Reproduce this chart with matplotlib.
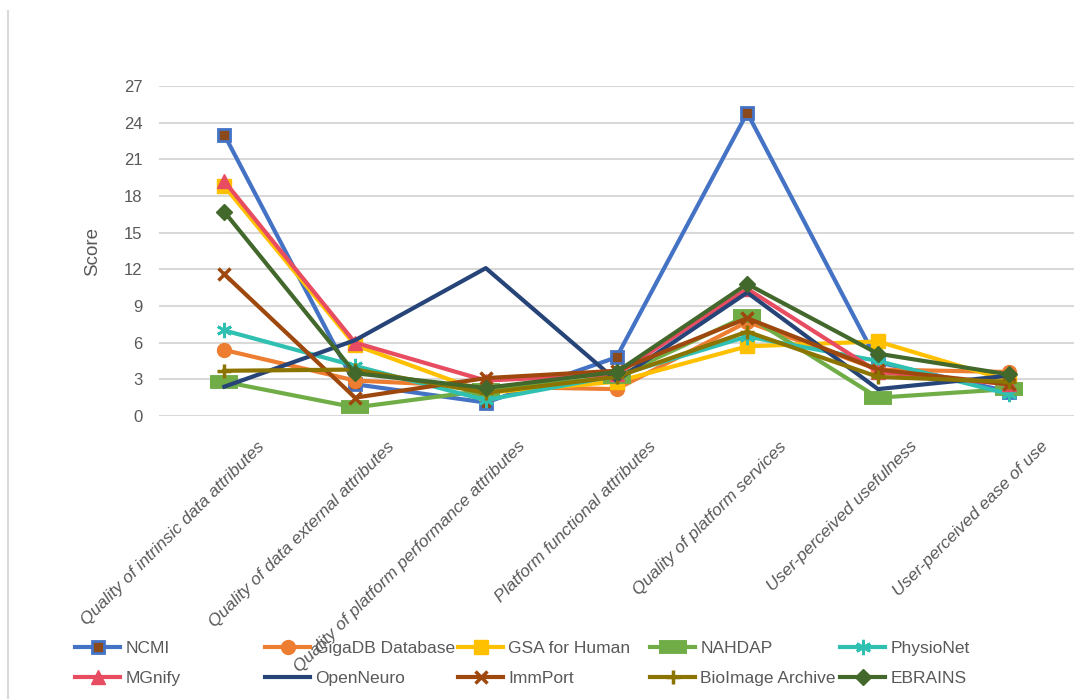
import numpy as np
import matplotlib.pyplot as plt
import matplotlib.transforms as mtransforms
from matplotlib.lines import Line2D

plt.rcParams['font.family'] = ['Liberation Sans Narrow', 'Liberation Sans', 'DejaVu Sans']

categories = ['Quality of intrinsic data attributes', 'Quality of data external attributes',
              'Quality of platform performance attributes', 'Platform functional attributes',
              'Quality of platform services', 'User-perceived usefulness', 'User-perceived ease of use']

NCMI = [23.0, 2.6, 1.1, 4.8, 24.8, 4.4, 2.0]
GigaDB = [5.4, 2.9, 2.4, 2.2, 7.7, 3.8, 3.6]
GSA = [18.8, 5.8, 1.9, 2.8, 5.7, 6.1, 2.9]
NAHDAP = [2.8, 0.7, 2.1, 3.2, 8.2, 1.5, 2.2]
PhysioNet = [7.0, 4.1, 1.3, 3.3, 6.5, 4.5, 1.8]
MGnify = [19.2, 6.0, 2.9, 3.4, 10.4, 3.6, 2.6]
OpenNeuro = [2.4, 6.2, 12.1, 2.9, 10.1, 2.2, 3.3]
ImmPort = [11.6, 1.5, 3.1, 3.7, 8.0, 3.8, 2.6]
BioImage = [3.7, 3.8, 1.9, 3.2, 6.9, 3.2, 2.8]
EBRAINS = [16.7, 3.5, 2.3, 3.6, 10.8, 5.1, 3.4]

names = ['NCMI', 'GigaDB Database', 'GSA for Human', 'NAHDAP', 'PhysioNet',
         'MGnify', 'OpenNeuro', 'ImmPort', 'BioImage Archive', 'EBRAINS']
series = [NCMI, GigaDB, GSA, NAHDAP, PhysioNet, MGnify, OpenNeuro, ImmPort, BioImage, EBRAINS]

# marker styles per series (Excel look)
styles = [
    dict(color='#4472C4', marker='s', ms=9, mfc='#8B4A1C', mec='#4472C4', mew=2),
    dict(color='#ED7D31', marker='o', ms=10),
    dict(color='#FFC000', marker='s', ms=10),
    dict(color='#70AD47', marker='_', ms=20, mew=10),
    dict(color='#2FC0B2', marker=(6, 2, 0), ms=11, mew=2),
    dict(color='#E84C61', marker='^', ms=10),
    dict(color='#264478', marker=None),
    dict(color='#9E480E', marker='x', ms=9, mew=2.5),
    dict(color='#8C7400', marker='+', ms=10, mew=2.5),
    dict(color='#43682B', marker='D', ms=8),
]

fig = plt.figure(figsize=(10.86, 6.99), dpi=100)
ax = fig.add_axes([159 / 1086, 1 - 416 / 699, 915 / 1086, 330 / 699])

x = np.arange(len(categories))
lines = []
for name, vals, st in zip(names, series, styles):
    ln, = ax.plot(x, vals, lw=3, label=name, **st)
    lines.append(ln)

ax.set_xlim(-0.5, len(categories) - 0.5)
ax.set_ylim(0, 27)
ax.set_yticks(np.arange(0, 28, 3))
ax.grid(axis='y', color='#D9D9D9', lw=1.5)
ax.set_axisbelow(True)
for s in ax.spines.values():
    s.set_visible(False)
ax.tick_params(length=0, labelsize=12, labelcolor='#595959', pad=12)

ax.set_xticks(x)
ax.set_xticklabels(categories, rotation=45, ha='right', rotation_mode='anchor',
                   fontsize=12.5, style='italic', color='#595959')
offset = mtransforms.ScaledTranslation(0.32, -0.06, fig.dpi_scale_trans)
for lab in ax.get_xticklabels():
    lab.set_transform(lab.get_transform() + offset)

ax.set_ylabel('Score', fontsize=13.5, color='#595959', labelpad=16)

# legend: five fixed-width columns, two rows
col_x = [75, 265, 458, 650, 840]
for i, cx in enumerate(col_x):
    fig.legend([lines[i], lines[i + 5]], [names[i], names[i + 5]],
               loc='upper left', bbox_to_anchor=(cx / 1086, 1 - 641 / 699),
               frameon=False, fontsize=12.5, labelcolor='#595959',
               handlelength=2.6, handletextpad=0.3, labelspacing=0.85,
               borderaxespad=0, borderpad=0)

fig.add_artist(Line2D([8 / 1086, 8 / 1086], [0, 1 - 11 / 699], color='#D9D9D9', lw=1.5))

plt.savefig('out.png', dpi=100)
